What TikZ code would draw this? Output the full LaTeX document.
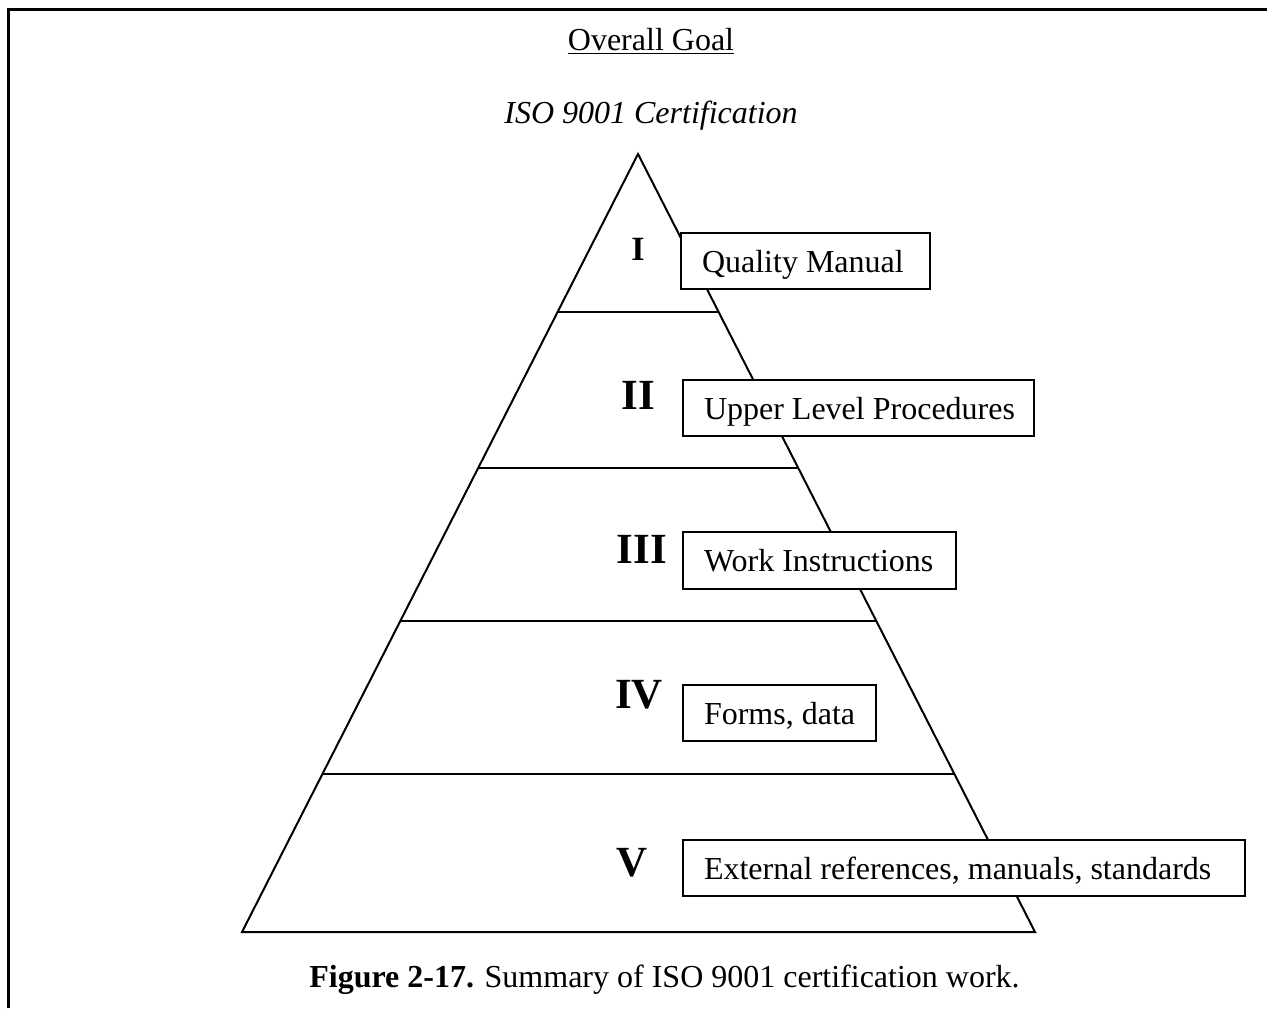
\documentclass[tikz,border=0pt]{standalone}
\usepackage{fontspec}
\setmainfont{Liberation Serif}
\usetikzlibrary{calc}
\newcommand{\lbox}[2]{\makebox[#1][l]{#2}}
\tikzset{
  lvlbox/.style={draw, line width=1pt, fill=white, anchor=north west,
    inner xsep=10.5pt, inner ysep=0pt, minimum height=28pt,
    text height=15pt, text depth=4pt,
    font=\fontsize{16pt}{19pt}\selectfont},
  numeral/.style={anchor=base, inner sep=0pt, font=\fontsize{21.5pt}{24pt}\selectfont\bfseries},
  plain/.style={anchor=base, inner sep=0pt, font=\fontsize{16pt}{19pt}\selectfont},
  edge/.style={line width=1pt}
}
\begin{document}
\begin{tikzpicture}[x=0.5pt,y=-0.5pt]
\useasboundingbox (0,0) rectangle (1267,1008);
% frame
\draw[line width=1.5pt] (8.5,1008) -- (8.5,9.5) -- (1267,9.5);
% titles
\node[plain] (goal) at (651,50) {\underline{Overall Goal}};
\node[plain, font=\fontsize{16pt}{19pt}\selectfont\itshape] (iso) at (651,123) {ISO 9001 Certification};
% pyramid
\coordinate (apex) at (638,154);
\coordinate (bl) at (242,932);
\coordinate (br) at (1035,932);
\draw[edge, line join=miter] (apex) -- (bl) -- (br) -- cycle;
\foreach \t in {0.2031,0.4036,0.6003,0.7969}{
  \draw[edge] ($(apex)!\t!(bl)$) -- ($(apex)!\t!(br)$);
}
% numerals
\node[numeral, font=\fontsize{17pt}{20pt}\selectfont\bfseries] (n1) at (638,260) {I};
\node[numeral] (n2) at (638.5,409) {II};
\node[numeral] (n3) at (642,563) {III};
\node[numeral] (n4) at (639,708) {IV};
\node[numeral] (n5) at (632,876) {V};
% boxes
\node[lvlbox] (b1) at (680,232) {\lbox{103.5pt}{Quality Manual}};
\node[lvlbox] (b2) at (682,379) {\lbox{154.5pt}{Upper Level Procedures}};
\node[lvlbox, minimum height=28.5pt] (b3) at (682,531) {\lbox{115.5pt}{Work Instructions}};
\node[lvlbox] (b4) at (682,684) {\lbox{75.5pt}{Forms, data}};
\node[lvlbox] (b5) at (682,839) {\lbox{260pt}{External references, manuals, standards}};
% caption
\node[plain] (cap) at (664.5,987) {\textbf{Figure 2-17.} Summary of ISO 9001 certification work.};
\end{tikzpicture}
\end{document}
